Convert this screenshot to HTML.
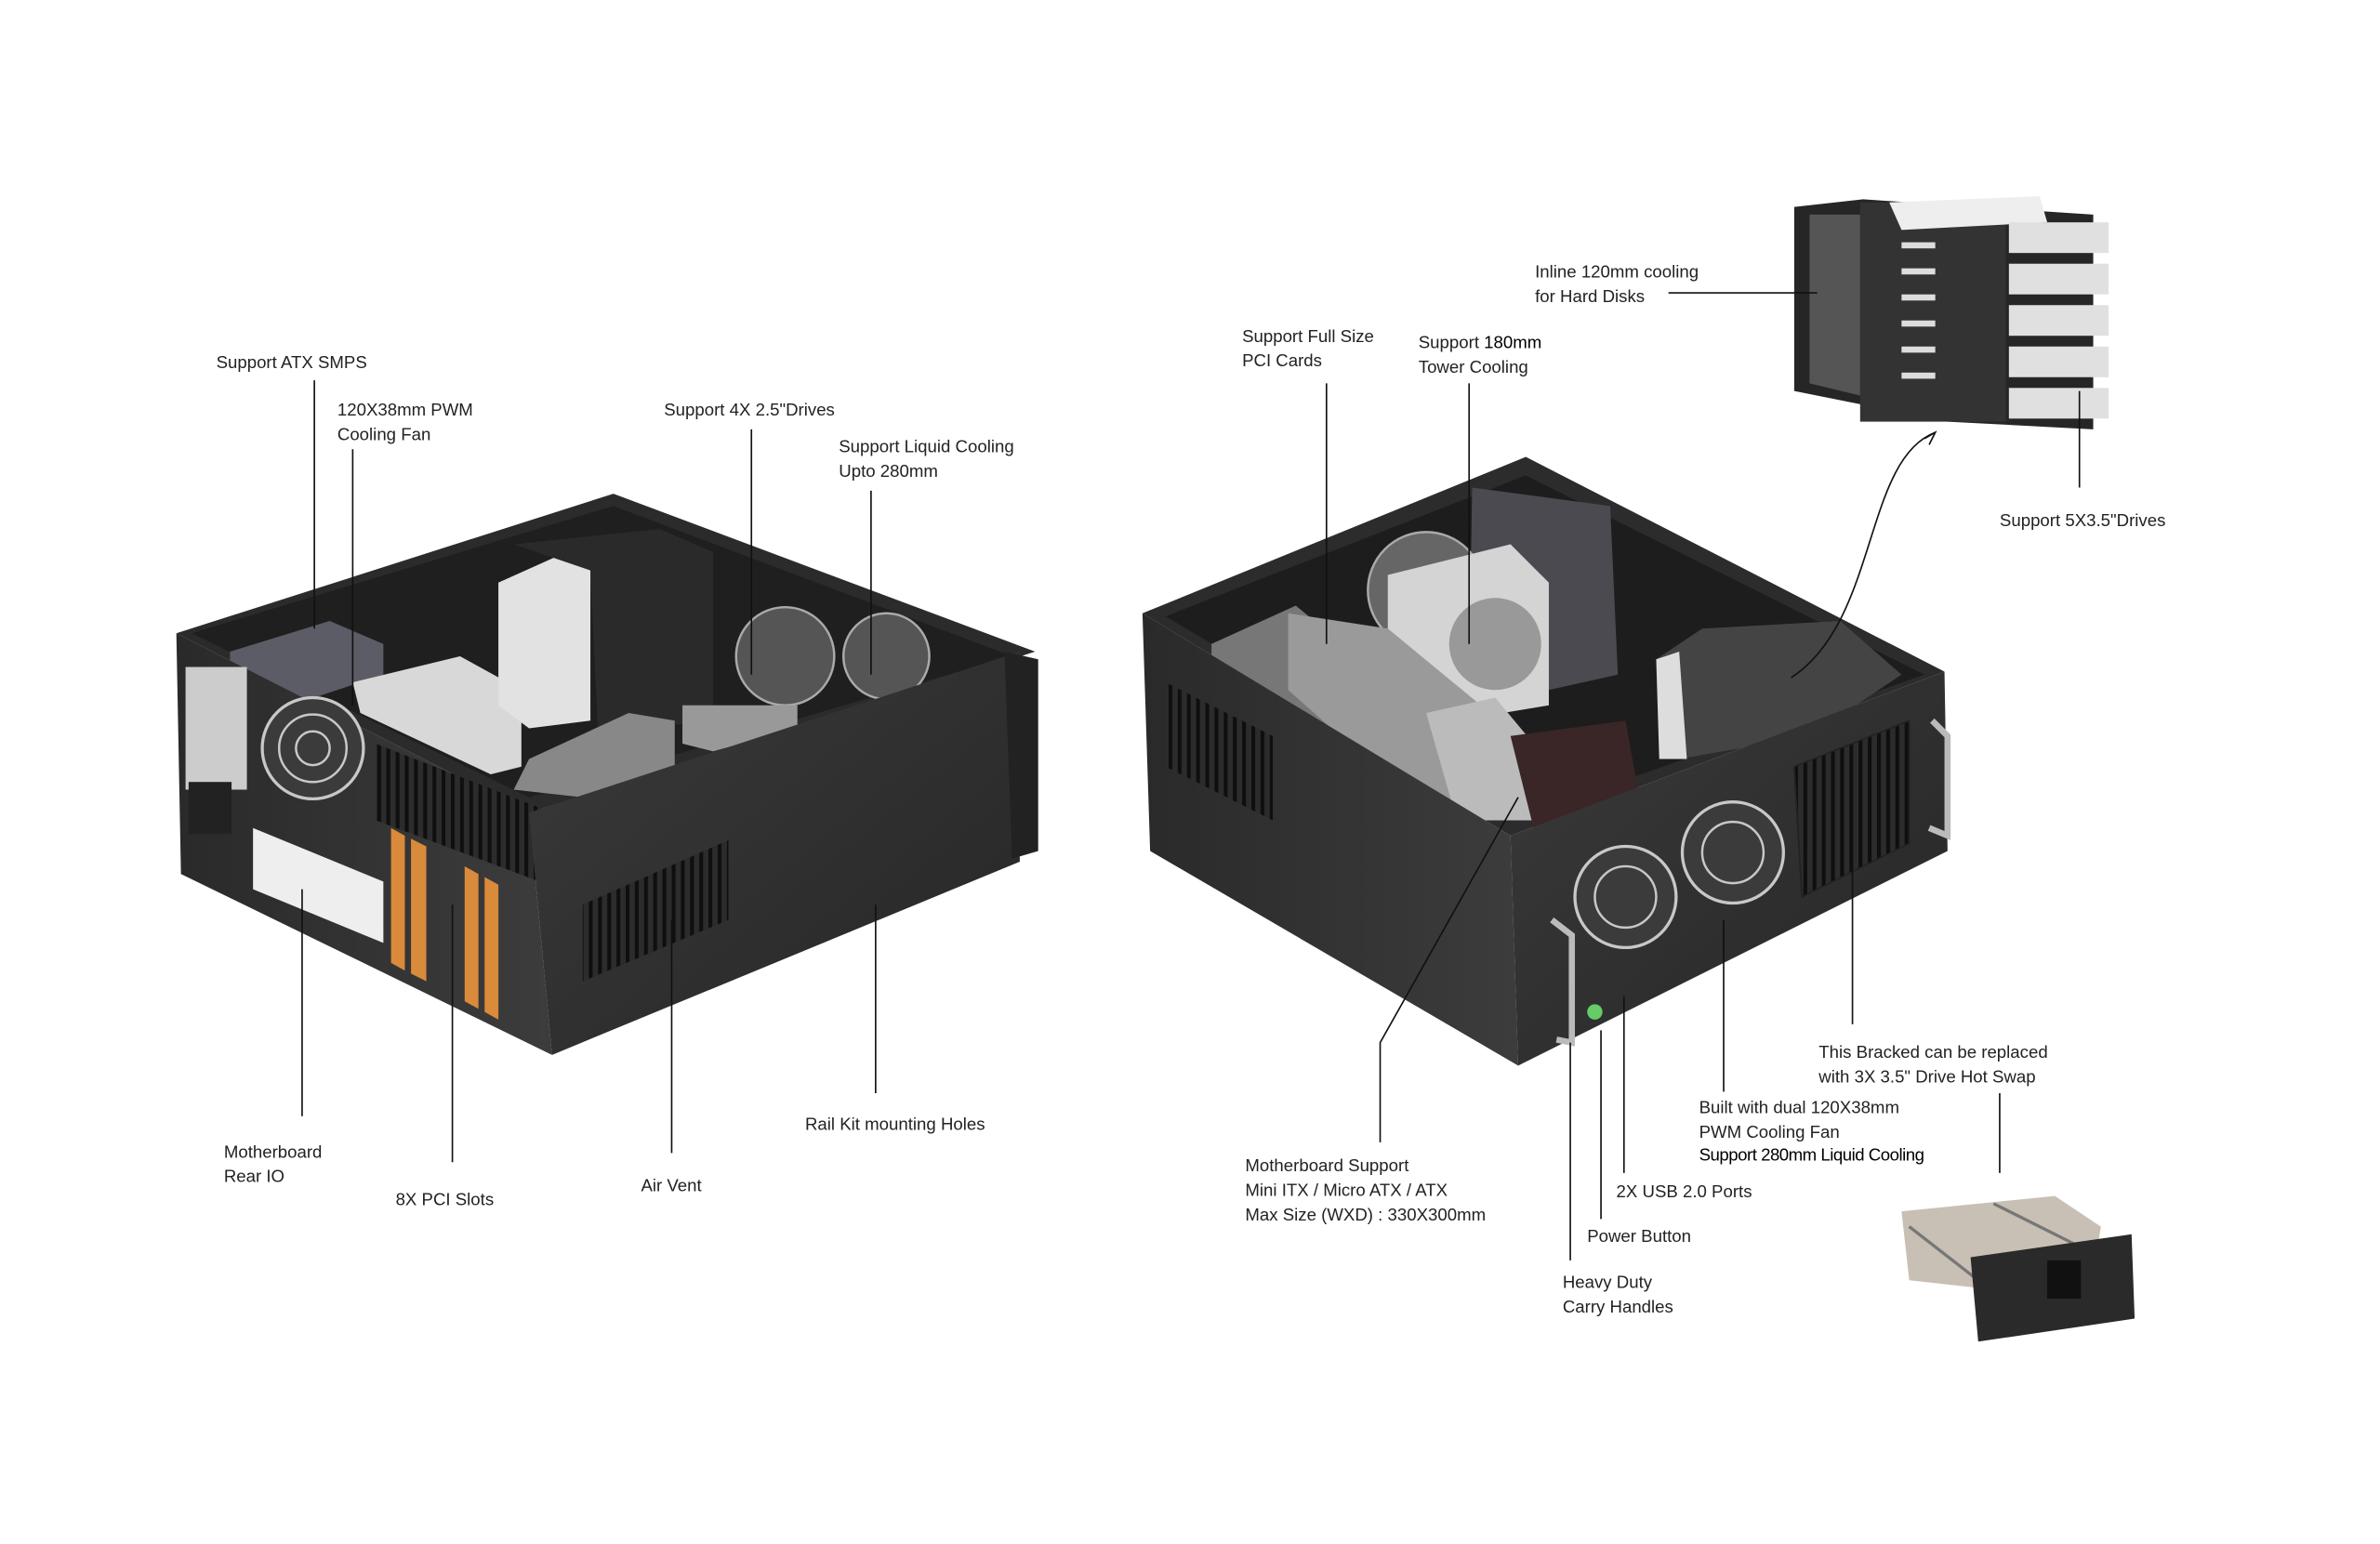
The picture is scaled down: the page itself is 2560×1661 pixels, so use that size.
<!DOCTYPE html>
<html><head><meta charset="utf-8"><style>
html,body{margin:0;padding:0;background:#fff;}
svg{display:block;}
text{font-family:"Liberation Sans","Noto Sans CJK KR",sans-serif;font-size:11.3px;fill:#222;}
</style></head><body>
<svg width="2560" height="1661" viewBox="0 0 1552 1007" preserveAspectRatio="none" xmlns="http://www.w3.org/2000/svg">
<rect width="1552" height="1007" fill="#fff"/>
<defs>
<linearGradient id="g1" x1="0" y1="0" x2="1" y2="1"><stop offset="0" stop-color="#3a3a3a"/><stop offset="1" stop-color="#262626"/></linearGradient>
<linearGradient id="g2" x1="0" y1="0" x2="1" y2="0"><stop offset="0" stop-color="#2a2a2a"/><stop offset="1" stop-color="#3c3c3c"/></linearGradient>
<pattern id="vent" width="6" height="6" patternUnits="userSpaceOnUse"><rect width="6" height="6" fill="#2c2c2c"/><rect width="2.5" height="6" fill="#0f0f0f"/></pattern>
</defs>

<!-- LEFT CASE -->
<polygon points="115,413 400,322 675,425 345,530" fill="#2b2b2b"/>
<polygon points="125,413 400,330 660,428 345,520" fill="#1f1f1f"/>
<polygon points="150,425 215,405 250,420 250,440 190,460 150,445" fill="#5c5c66"/>
<polygon points="230,445 300,428 340,450 340,500 320,505 235,465" fill="#d8d8d8"/>
<polygon points="325,380 365,362 385,372 385,470 345,475 325,460" fill="#e2e2e2"/>
<polygon points="335,355 430,345 465,360 465,470 390,478 385,372" fill="#2a2a2a"/>
<circle cx="512" cy="428" r="32" fill="#555" stroke="#aaa" stroke-width="1.5"/>
<circle cx="578" cy="428" r="28" fill="#555" stroke="#aaa" stroke-width="1.5"/>
<polygon points="345,495 410,465 440,470 440,500 380,520 335,515" fill="#888"/>
<polygon points="445,460 520,460 520,475 465,490 445,485" fill="#999"/>
<polygon points="115,413 345,530 360,688 118,570" fill="url(#g2)"/>
<rect x="121" y="435" width="40" height="80" fill="#ccc"/>
<rect x="123" y="510" width="28" height="34" fill="#222"/>
<circle cx="204" cy="488" r="33" fill="#3b3b3b" stroke="#c8c8c8" stroke-width="2"/>
<circle cx="204" cy="488" r="22" fill="none" stroke="#c8c8c8" stroke-width="1.5"/>
<circle cx="204" cy="488" r="11" fill="none" stroke="#c8c8c8" stroke-width="1.5"/>
<polygon points="165,540 250,575 250,615 165,580" fill="#eee"/>
<polygon points="255,540 264,545 264,633 255,628" fill="#d98a3a"/>
<polygon points="268,547 278,552 278,640 268,635" fill="#d98a3a"/>
<polygon points="303,565 312,570 312,658 303,653" fill="#d98a3a"/>
<polygon points="316,572 325,577 325,665 316,660" fill="#d98a3a"/>
<polygon points="245,485 360,530 360,578 245,535" fill="url(#vent)"/>
<polygon points="345,530 665,425 665,562 360,688" fill="url(#g1)"/>
<polygon points="655,425 677,430 677,555 660,560" fill="#222"/>
<polygon points="380,590 475,548 475,600 380,640" fill="url(#vent)"/>

<!-- RIGHT CASE -->
<polygon points="745,400 995,298 1268,438 985,545" fill="#2c2c2c"/>
<polygon points="760,402 995,310 1255,440 985,535" fill="#1d1d1d"/>
<polygon points="960,318 1050,330 1055,440 1010,450 958,440" fill="#4a4a50"/>
<circle cx="930" cy="385" r="38" fill="#666" stroke="#aaa" stroke-width="1.5"/>
<polygon points="905,375 985,355 1010,380 1010,460 950,470 905,430" fill="#d4d4d4"/>
<circle cx="975" cy="420" r="30" fill="#999"/>
<polygon points="790,420 845,395 900,440 900,500 845,505 790,460" fill="#777"/>
<polygon points="840,400 905,410 990,480 990,530 930,530 840,450" fill="#9a9a9a"/>
<polygon points="930,465 975,455 1000,485 1000,535 950,535" fill="#bbb"/>
<polygon points="985,480 1060,470 1070,525 1000,540" fill="#3a2626"/>
<polygon points="1080,430 1110,410 1200,405 1240,440 1180,480 1095,495" fill="#444"/>
<polygon points="1080,430 1095,425 1100,495 1082,495" fill="#ddd"/>
<polygon points="745,400 985,545 990,695 750,555" fill="url(#g2)"/>
<polygon points="760,445 830,480 830,535 760,500" fill="url(#vent)"/>
<polygon points="985,545 1268,438 1270,555 990,695" fill="url(#g1)"/>
<circle cx="1060" cy="585" r="33" fill="#3b3b3b" stroke="#c8c8c8" stroke-width="2"/>
<circle cx="1060" cy="585" r="20" fill="none" stroke="#c8c8c8" stroke-width="1.5"/>
<circle cx="1130" cy="556" r="33" fill="#3b3b3b" stroke="#c8c8c8" stroke-width="2"/>
<circle cx="1130" cy="556" r="20" fill="none" stroke="#c8c8c8" stroke-width="1.5"/>
<polygon points="1170,500 1245,470 1245,550 1175,585" fill="url(#vent)" stroke="#222"/>
<path d="M1012,600 L1025,610 L1025,680 L1015,678" fill="none" stroke="#bbb" stroke-width="4"/>
<path d="M1260,470 L1270,480 L1270,545 L1258,540" fill="none" stroke="#bbb" stroke-width="4"/>
<circle cx="1040" cy="660" r="5" fill="#6c6"/>

<!-- Drive cage -->
<polygon points="1170,135 1215,130 1365,140 1365,280 1270,275 1170,255" fill="#262626"/>
<polygon points="1180,140 1213,140 1213,258 1180,250" fill="#555"/>
<rect x="1213" y="132" width="95" height="143" fill="#333"/>
<polygon points="1232,132 1330,128 1335,145 1240,150" fill="#eee"/>
<g fill="#e0e0e0">
<rect x="1310" y="145" width="65" height="20"/><rect x="1310" y="172" width="65" height="20"/><rect x="1310" y="199" width="65" height="20"/><rect x="1310" y="226" width="65" height="20"/><rect x="1310" y="253" width="65" height="20"/>
</g>
<g fill="#ddd"><rect x="1240" y="158" width="22" height="4"/><rect x="1240" y="175" width="22" height="4"/><rect x="1240" y="192" width="22" height="4"/><rect x="1240" y="209" width="22" height="4"/><rect x="1240" y="226" width="22" height="4"/><rect x="1240" y="243" width="22" height="4"/></g>

<!-- Hot swap bracket -->
<polygon points="1240,790 1340,780 1370,800 1365,830 1290,840 1245,835" fill="#c8c0b4"/>
<line x1="1245" y1="800" x2="1290" y2="835" stroke="#777" stroke-width="2"/>
<line x1="1300" y1="785" x2="1360" y2="815" stroke="#777" stroke-width="2"/>
<polygon points="1285,820 1390,805 1392,860 1290,875" fill="#2a2a2a"/>
<rect x="1335" y="822" width="22" height="25" fill="#111"/>

<g stroke="#111" stroke-width="1" fill="none">
<line x1="205" y1="248" x2="205" y2="410"/>
<line x1="230" y1="293" x2="230" y2="460"/>
<line x1="490" y1="280" x2="490" y2="440"/>
<line x1="568" y1="320" x2="568" y2="440"/>
<line x1="197" y1="580" x2="197" y2="728"/>
<line x1="295" y1="590" x2="295" y2="758"/>
<line x1="438" y1="600" x2="438" y2="752"/>
<line x1="571" y1="590" x2="571" y2="713"/>
<line x1="865" y1="250" x2="865" y2="420"/>
<line x1="958" y1="250" x2="958" y2="420"/>
<line x1="1088" y1="191" x2="1185" y2="191"/>
<line x1="1356" y1="255" x2="1356" y2="318"/>
<path d="M1168,442 C1225,405 1215,300 1262,282"/>
<path d="M1255,286 L1262,282 L1258,290"/>
<path d="M900,745 L900,680 L990,520"/>
<line x1="1024" y1="680" x2="1024" y2="822"/>
<line x1="1044" y1="672" x2="1044" y2="795"/>
<line x1="1059" y1="650" x2="1059" y2="765"/>
<line x1="1124" y1="600" x2="1124" y2="712"/>
<line x1="1208" y1="565" x2="1208" y2="668"/>
<line x1="1304" y1="713" x2="1304" y2="765"/>
</g>

<text x="141" y="240">Support ATX SMPS</text>
<text x="220" y="271">120X38mm PWM</text><text x="220" y="287">Cooling Fan</text>
<text x="433" y="271">Support 4X 2.5"Drives</text>
<text x="547" y="295">Support Liquid Cooling</text><text x="547" y="311">Upto 280mm</text>
<text x="146" y="755">Motherboard</text><text x="146" y="771">Rear IO</text>
<text x="258" y="786">8X PCI Slots</text>
<text x="418" y="777">Air Vent</text>
<text x="525" y="737">Rail Kit mounting Holes</text>
<text x="1001" y="181">Inline 120mm cooling</text><text x="1001" y="197">for Hard Disks</text>
<text x="810" y="223">Support Full Size</text><text x="810" y="239">PCI Cards</text>
<text x="925" y="227">Support <tspan style="fill:#000">180mm</tspan></text><text x="925" y="243">Tower Cooling</text>
<text x="1304" y="343">Support 5X3.5"Drives</text>
<text x="1186" y="690">This Bracked can be replaced</text><text x="1186" y="706">with 3X 3.5" Drive Hot Swap</text>
<text x="1108" y="726">Built with dual 120X38mm</text><text x="1108" y="742">PWM Cooling Fan</text>
<text x="1108" y="757" style="fill:#000;letter-spacing:-0.3px">Support 280mm Liquid Cooling</text>
<text x="812" y="764">Motherboard Support</text><text x="812" y="780">Mini ITX / Micro ATX / ATX</text><text x="812" y="796">Max Size (WXD) : 330X300mm</text>
<text x="1054" y="781">2X USB 2.0 Ports</text>
<text x="1035" y="810">Power Button</text>
<text x="1019" y="840">Heavy Duty</text><text x="1019" y="856">Carry Handles</text>
</svg>
</body></html>
